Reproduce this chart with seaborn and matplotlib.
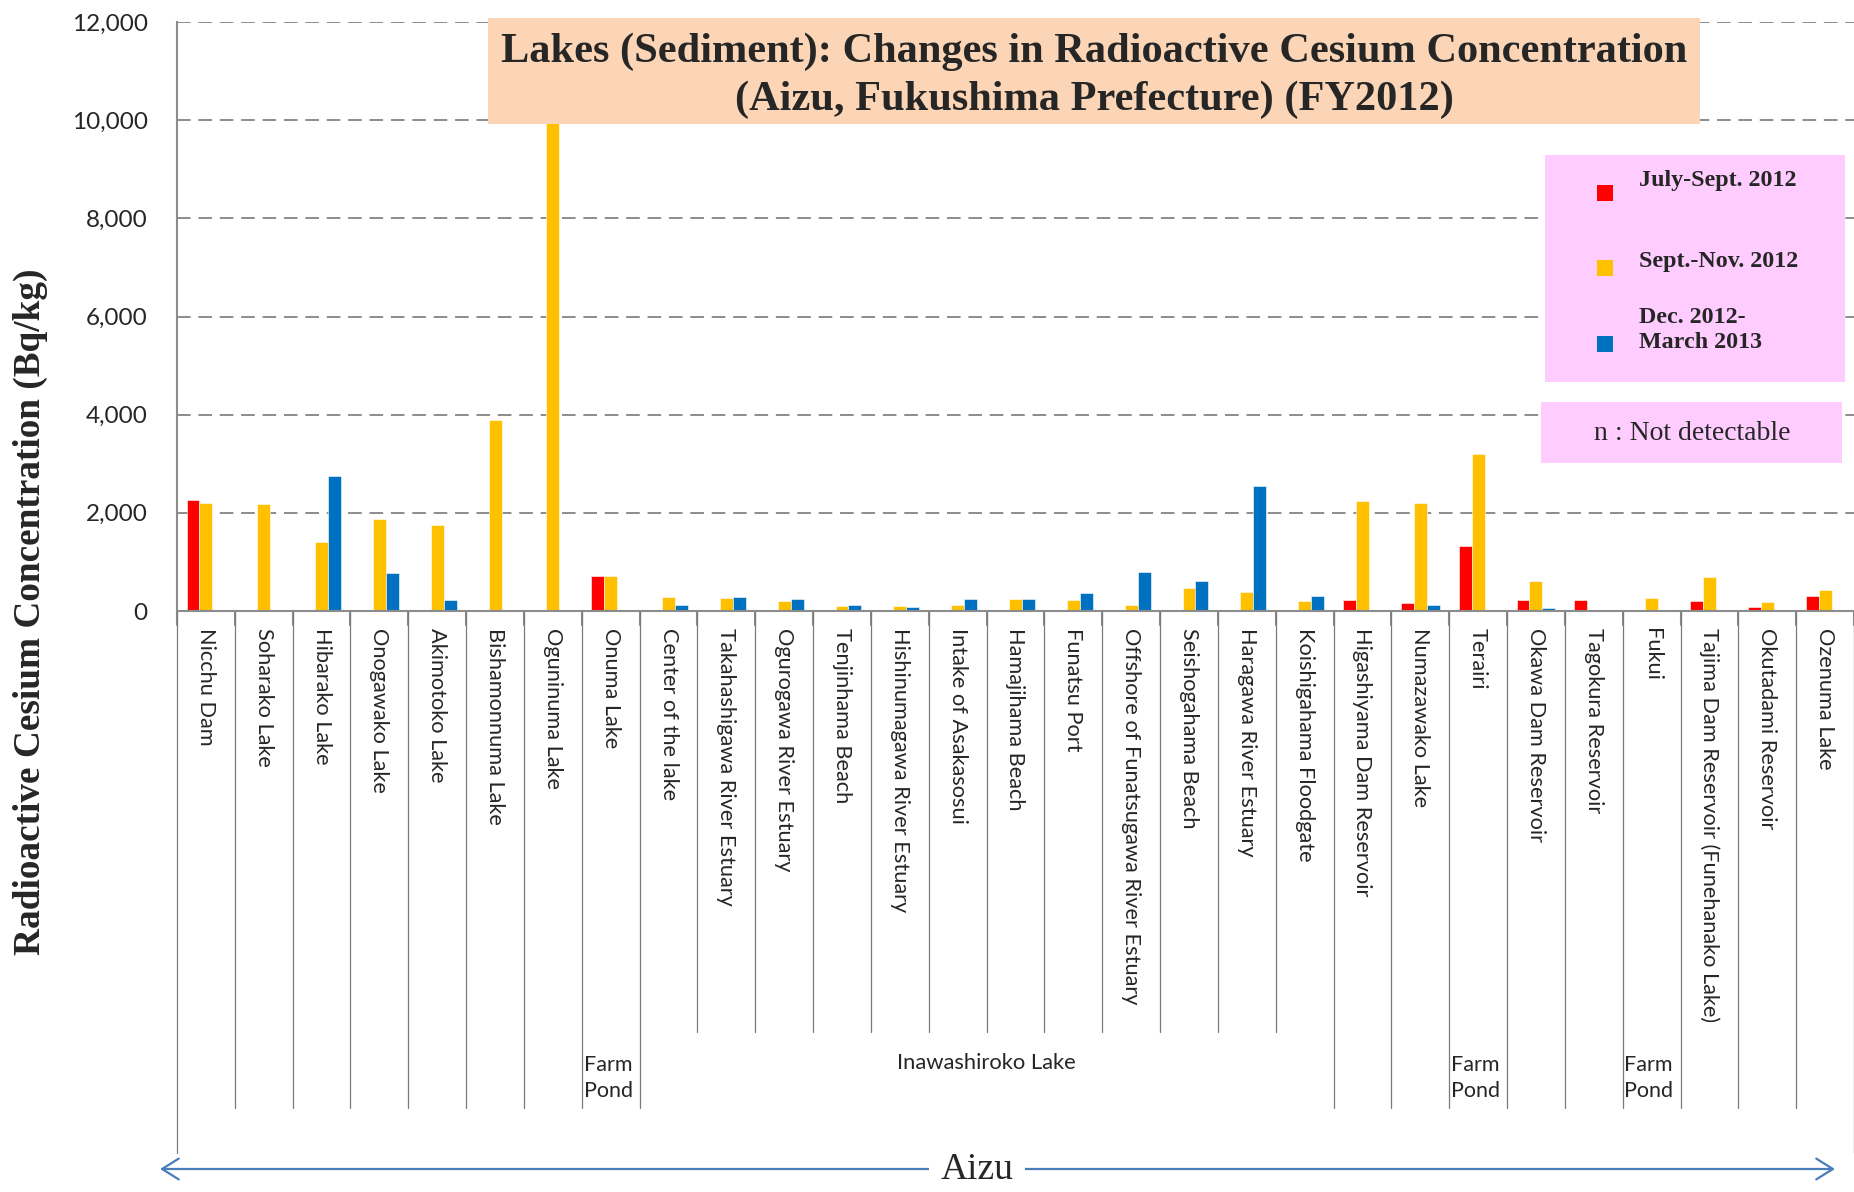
import numpy as np
import pandas as pd
import matplotlib
matplotlib.use("Agg")
import matplotlib.pyplot as plt
import matplotlib.transforms as mtransforms
from matplotlib.patches import Rectangle, ArrowStyle
from matplotlib.ticker import FuncFormatter
import seaborn as sns

# sites, left to right
sites = ["Nicchu Dam", "Soharako Lake", "Hibarako Lake", "Onogawako Lake", "Akimotoko Lake",
         "Bishamonnuma Lake", "Oguninuma Lake", "Onuma Lake", "Center of the lake",
         "Takahashigawa River Estuary", "Ogurogawa River Estuary", "Tenjinhama Beach",
         "Hishinumagawa River Estuary", "Intake of Asakasosui", "Hamajihama Beach",
         "Funatsu Port", "Offshore of Funatsugawa River Estuary", "Seishogahama Beach",
         "Haragawa River Estuary", "Koishigahama Floodgate", "Higashiyama Dam Reservoir",
         "Numazawako Lake", "Terairi", "Okawa Dam Reservoir", "Tagokura Reservoir", "Fukui",
         "Tajima Dam Reservoir (Funehanako Lake)", "Okutadami Reservoir", "Ozenuma Lake"]

periods = ["July-Sept. 2012", "Sept.-Nov. 2012", "Dec. 2012-\nMarch 2013"]
nan = np.nan

# Bq/kg (nan = no bar)
jul_sep_2012 = [2270, nan, nan, nan, nan, nan, nan, 720, nan, nan, nan, nan, nan, nan, nan,
                nan, nan, nan, nan, nan, 220, 155, 1330, 220, 225, nan, 205, 90, 305]
sep_nov_2012 = [2210, 2180, 1410, 1870, 1750, 3900, 11500, 710, 280, 265, 200, 100, 100, 120,
                240, 225, 115, 470, 390, 205, 2245, 2205, 3200, 605, nan, 265, 695, 185, 420]
dec_mar_2013 = [nan, nan, 2750, 775, 220, nan, nan, nan, 120, 280, 240, 120, 80, 245, 240,
                365, 795, 605, 2555, 300, nan, 115, nan, 60, nan, nan, nan, nan, nan]

colors = ["#FF0000", "#FFC000", "#0070C0"]

W, H = 1854, 1192


def fx(x):
    return x / W


def fy(y):
    return 1 - y / H


rows = []
for p, vals in zip(periods, [jul_sep_2012, sep_nov_2012, dec_mar_2013]):
    for s, v in zip(sites, vals):
        if not np.isnan(v):
            rows.append({"site": s, "period": p, "value": v})
df = pd.DataFrame(rows)

sans = ["Lato", "DejaVu Sans"]
serif = ["Liberation Serif", "DejaVu Serif"]

sns.set_style("white")
plt.rcParams["font.family"] = sans

fig = plt.figure(figsize=(W / 100, H / 100), dpi=100)
ax = fig.add_axes([fx(177), fy(611), (W - 177) / W, (611 - 22) / H])

sns.barplot(data=df, x="site", y="value", hue="period", order=sites, hue_order=periods,
            palette=colors, width=0.67, errorbar=None, legend=False, ax=ax,
            edgecolor="white", linewidth=0.4, saturation=1)

ax.set_xlim(-0.5, len(sites) - 0.5)
ax.set_ylim(0, 12000)
ax.set_yticks(range(0, 12001, 2000))
ax.yaxis.set_major_formatter(FuncFormatter(lambda v, _: f"{int(v):,}"))
ax.set_axisbelow(True)
ax.yaxis.grid(True, linestyle=(0, (7, 4)), color="#8c8c8c", linewidth=1.4)
ax.tick_params(axis="y", length=6, width=1.4, color="#8c8c8c", labelsize=17.5, pad=15)
ax.set_xlabel("")
ax.set_ylabel("")
ax.set_xticks(range(len(sites)))
ax.set_xticklabels(sites, rotation=270, fontsize=15.7)
ax.tick_params(axis="x", length=0, pad=12)
for side in ["top", "right"]:
    ax.spines[side].set_visible(False)
for side in ["left", "bottom"]:
    ax.spines[side].set_color("#8c8c8c")
    ax.spines[side].set_linewidth(1.5)

# category separators below the axis
trans = mtransforms.blended_transform_factory(ax.transData, ax.transAxes)
axh = 611 - 22
for b in range(len(sites) + 1):
    if b in (0, len(sites)):
        yb = (611 - 1153) / axh
    elif 9 <= b <= 19:
        yb = (611 - 1032) / axh
    else:
        yb = (611 - 1108) / axh
    x = b - 0.5
    ax.plot([x, x], [0, -14 / axh], transform=trans, color="#8c8c8c", lw=1.5, clip_on=False)
    ax.plot([x, x], [0, yb], transform=trans, color="#7a7a7a", lw=0.9, clip_on=False)

for i in [7, 22, 25]:
    ax.text(i - 0.47, (611 - 1078) / axh, "Farm\nPond", transform=trans, ha="left",
            va="center", fontsize=15.5, linespacing=1.35)
ax.text(13.5, (611 - 1063) / axh, "Inawashiroko Lake", transform=trans, ha="center",
        va="center", fontsize=15.8)

# y label
fig.text(fx(30), fy(612), "Radioactive Cesium Concentration (Bq/kg)", rotation=90,
         ha="center", va="center", fontsize=26.8, fontweight="bold", family=serif)

# title box
fig.add_artist(Rectangle((fx(488), fy(124)), (1700 - 488) / W, (124 - 18) / H,
                         transform=fig.transFigure, facecolor="#FBD5B5", edgecolor="none",
                         zorder=5))
fig.text(fx(1094), fy(52), "Lakes (Sediment): Changes in Radioactive Cesium Concentration",
         ha="center", va="center", fontsize=30.5, fontweight="bold", family=serif, zorder=6)
fig.text(fx(1094), fy(100), "(Aizu, Fukushima Prefecture) (FY2012)",
         ha="center", va="center", fontsize=30.5, fontweight="bold", family=serif, zorder=6)

# legend
fig.add_artist(Rectangle((fx(1545), fy(382)), (1845 - 1545) / W, (382 - 155) / H,
                         transform=fig.transFigure, facecolor="#FFCCFF", edgecolor="none",
                         zorder=5))
for c, ym in zip(colors, [193, 268, 344]):
    fig.add_artist(Rectangle((fx(1597), fy(ym + 8)), 16 / W, 16 / H,
                             transform=fig.transFigure, facecolor=c, edgecolor="none",
                             zorder=6))
for label, ym in zip(periods, [180, 262, 330]):
    fig.text(fx(1639), fy(ym), label, ha="left", va="center", fontsize=17.3,
             fontweight="bold", family=serif, linespacing=1.3, zorder=6)

fig.add_artist(Rectangle((fx(1541), fy(463)), (1842 - 1541) / W, (463 - 402) / H,
                         transform=fig.transFigure, facecolor="#FFCCFF", edgecolor="none",
                         zorder=5))
fig.text(fx(1692), fy(433), "n : Not detectable", ha="center", va="center", fontsize=20,
         family=serif, zorder=6)

# Aizu arrow
fig.add_artist(plt.Annotation("", xy=(fx(1835), fy(1169)), xytext=(fx(160), fy(1169)),
                              xycoords="figure fraction", textcoords="figure fraction",
                              arrowprops=dict(arrowstyle=ArrowStyle("<->", head_length=0.8,
                                                                    head_width=0.5),
                                              mutation_scale=15, color="#4A7EBB", lw=1.6,
                                              shrinkA=0, shrinkB=0)))
fig.text(fx(977), fy(1170), "Aizu", ha="center", va="center", fontsize=27, family=serif,
         bbox=dict(facecolor="white", edgecolor="none", pad=8), zorder=6)

fig.savefig("out.png", dpi=100)
